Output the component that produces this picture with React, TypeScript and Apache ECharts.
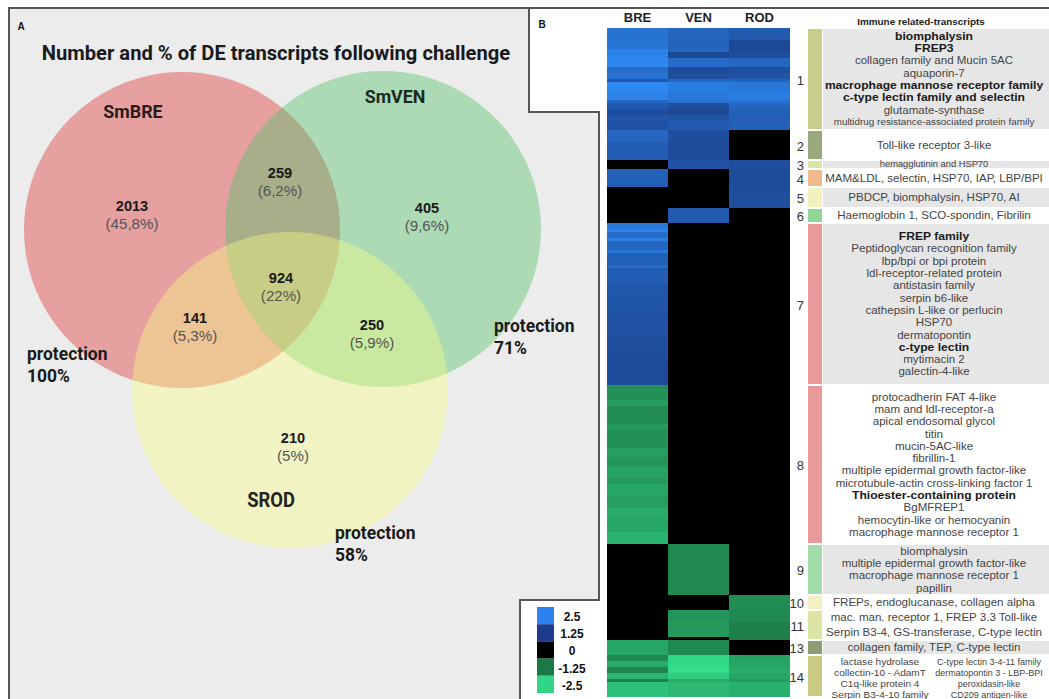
import React, { useEffect, useRef } from 'react';
import * as echarts from 'echarts';

const SANS = "'Liberation Sans', Arial, sans-serif";
const NARROW = "Roboto, 'Liberation Sans', sans-serif";

// ---------------- Heatmap data (panel B) ----------------
const columns = ['BRE', 'VEN', 'ROD'];
// number of transcript rows in each horizontal stripe (top to bottom)
const stripeRows = [
  4, 3, 1, 2, 3, 2, 2, 1, 3, 3, 1, 2, 2, 2, 3,
  4, 6,
  3,
  6,
  7,
  5,
  2, 1, 2, 1, 3, 1, 4, 1, 5, 5, 6, 6, 8, 9,
  5, 2, 6, 2, 6, 3, 3, 4, 2, 4, 4, 3, 5, 4,
  17,
  5,
  4, 5, 1,
  5,
  2, 2, 2, 2, 1, 5,
];
const breValues = [
  2.1, 2.15, 2.4, 2.4, 2.45, 2.0, 2.1, 1.6, 2.5, 2.4, 1.9, 1.7, 1.5, 1.65, 1.55,
  1.9, 1.75,
  0,
  1.8,
  0,
  0,
  2.2, 2.4, 2.0, 2.3, 1.9, 2.2, 1.8, 2.0, 1.75, 1.65, 1.6, 1.55, 1.5, 1.45,
  -1.6, -1.75, -1.55, -1.7, -1.6, -1.75, -1.65, -1.8, -1.7, -1.85, -1.75, -1.9, -1.85, -2.0,
  0,
  0,
  0, 0, 0,
  -1.85,
  -1.5, -1.9, -1.45, -2.0, -1.4, -2.15,
];
const venValues = [
  1.9, 1.85, 1.9, 1.4, 2.0, 1.45, 1.5, 1.9, 2.3, 2.2, 2.1, 1.5, 1.4, 1.6, 1.7,
  1.5, 1.45,
  1.55,
  0,
  0,
  1.7,
  0, 0, 0, 0, 0, 0, 0, 0, 0, 0, 0, 0, 0, 0,
  0, 0, 0, 0, 0, 0, 0, 0, 0, 0, 0, 0, 0, 0,
  -1.5,
  0,
  -1.65, -1.7, 0,
  -1.5,
  -2.4, -2.4, -2.45, -2.3, -1.9, -2.05,
];
const rodValues = [
  1.7, 1.4, 1.4, 1.5, 1.9, 1.5, 1.6, 1.9, 2.2, 2.3, 2.1, 1.9, 1.8, 1.75, 1.8,
  0, 0,
  1.5,
  1.45,
  1.5,
  0,
  0, 0, 0, 0, 0, 0, 0, 0, 0, 0, 0, 0, 0, 0,
  0, 0, 0, 0, 0, 0, 0, 0, 0, 0, 0, 0, 0, 0,
  0,
  -1.55,
  -1.5, -1.4, -1.4,
  0,
  -1.8, -1.85, -1.9, -1.85, -1.7, -1.95,
];
const colorStops = ['#35e08e', '#1b7242', '#000000', '#1b3f8a', '#2e8af2'];
const legendLabels = ['2.5', '1.25', '0', '-1.25', '-2.5'];
const legendColors = ['#2d82ef', '#1d3c8e', '#000000', '#1c7844', '#31d585'];

// ---------------- Clusters ----------------
const clusterLabels = ['1', '2', '3', '4', '5', '6', '7', '8', '9', '10', '11', '13', '14'];
const clusterRows = [34, 10, 3, 6, 7, 5, 54, 53, 17, 5, 10, 5, 14];
const clusterColors = ['#c9cd8a', '#9aa97c', '#d9e6a3', '#f0b98c', '#f1f1bd', '#8fd692', '#e89a9a', '#e89a9a', '#a3dcab', '#f3f0c2', '#dde5a6', '#8e9c76', '#c9cb84'];
const clusterShaded = [true, false, true, false, true, false, true, false, true, false, false, true, false];
type Line = { t: string; b?: boolean; s?: number };
const clusterTexts: Line[][] = [
  [
    { t: 'biomphalysin', b: true }, { t: 'FREP3', b: true }, { t: 'collagen family and Mucin 5AC' }, { t: 'aquaporin-7' },
    { t: 'macrophage mannose receptor family', b: true }, { t: 'c-type lectin family and selectin', b: true },
    { t: 'glutamate-synthase' }, { t: 'multidrug resistance-associated protein family', s: 9 },
  ],
  [{ t: 'Toll-like receptor 3-like' }],
  [{ t: 'hemagglutinin and HSP70', s: 8.5 }],
  [{ t: 'MAM&LDL, selectin, HSP70, IAP, LBP/BPI' }],
  [{ t: 'PBDCP, biomphalysin, HSP70, AI' }],
  [{ t: 'Haemoglobin 1, SCO-spondin, Fibrilin' }],
  [
    { t: 'FREP family', b: true }, { t: 'Peptidoglycan recognition family' }, { t: 'lbp/bpi or bpi protein' },
    { t: 'ldl-receptor-related protein' }, { t: 'antistasin family' }, { t: 'serpin b6-like' },
    { t: 'cathepsin L-like or perlucin' }, { t: 'HSP70' }, { t: 'dermatopontin' }, { t: 'c-type lectin', b: true },
    { t: 'mytimacin 2' }, { t: 'galectin-4-like' },
  ],
  [
    { t: 'protocadherin FAT 4-like' }, { t: 'mam and ldl-receptor-a' }, { t: 'apical endosomal glycol' }, { t: 'titin' },
    { t: 'mucin-5AC-like' }, { t: 'fibrillin-1' }, { t: 'multiple epidermal growth factor-like' },
    { t: 'microtubule-actin cross-linking factor 1' }, { t: 'Thioester-containing protein', b: true }, { t: 'BgMFREP1' },
    { t: 'hemocytin-like or hemocyanin' }, { t: 'macrophage mannose receptor 1' },
  ],
  [{ t: 'biomphalysin' }, { t: 'multiple epidermal growth factor-like' }, { t: 'macrophage mannose receptor 1' }, { t: 'papillin' }],
  [{ t: 'FREPs, endoglucanase, collagen alpha' }],
  [{ t: 'mac. man. receptor 1, FREP 3.3 Toll-like' }, { t: 'Serpin B3-4, GS-transferase, C-type lectin' }],
  [{ t: 'collagen family, TEP, C-type lectin' }],
  [],
];
const cluster14Left = ['lactase hydrolase', 'collectin-10 - AdamT', 'C1q-like protein 4', 'Serpin B3-4-10 family'];
const cluster14Right = ['C-type lectin 3-4-11 family', 'dermatopontin 3 - LBP-BPI', 'peroxidasin-like', 'CD209 antigen-like'];

// ---------------- Venn data (panel A) ----------------
const vennSets = ['SmBRE', 'SmVEN', 'SROD'];
const vennProtection = ['100%', '71%', '58%'];
const vennCounts = ['2013', '259', '405', '924', '141', '250', '210'];
const vennPercents = ['(45,8%)', '(6,2%)', '(9,6%)', '(22%)', '(5,3%)', '(5,9%)', '(5%)'];

// layout
const GRID = { left: 607, top: 28, width: 183, height: 669 };

export default function App() {
  const ref = useRef<HTMLDivElement>(null);
  useEffect(() => {
    const chart = echarts.init(ref.current!, null, { renderer: 'svg' });
    const totalRows = stripeRows.reduce((a, b) => a + b, 0);
    const cells: number[][] = [];
    let acc = 0;
    stripeRows.forEach((n, i) => {
      [breValues, venValues, rodValues].forEach((vals, c) => cells.push([c, acc, acc + n, vals[i]]));
      acc += n;
    });
    const yOf = (row: number) => GRID.top + (row * GRID.height) / totalRows;

    const txt = (x: number, y: number, text: string, o: any = {}) => ({
      type: 'text', x, y, silent: true, scaleX: o.sx || 1,
      style: {
        text, fill: o.fill || '#333', fontSize: o.size || 11, fontWeight: o.bold ? 'bold' : 'normal',
        fontFamily: o.family || SANS, textAlign: o.align || 'center', textVerticalAlign: 'middle',
      },
    });

    const g: any[] = [];
    // Panel A background & frame
    g.push({
      type: 'polygon', silent: true,
      shape: { points: [[9, 8], [529, 8], [529, 112], [599, 112], [599, 600], [520, 600], [520, 700], [9, 700]] },
      style: { fill: '#ececec', stroke: '#555', lineWidth: 2 },
    });
    g.push({ type: 'line', silent: true, shape: { x1: 529, y1: 8, x2: 1049, y2: 8 }, style: { stroke: '#555', lineWidth: 2 } });
    // Venn circles
    g.push({ type: 'circle', silent: true, shape: { cx: 182, cy: 230, r: 158 }, style: { fill: '#e6a0a0' } });
    g.push({ type: 'circle', silent: true, shape: { cx: 383, cy: 229, r: 158 }, style: { fill: 'rgba(84,194,104,0.42)' } });
    g.push({ type: 'circle', silent: true, shape: { cx: 290, cy: 390, r: 158 }, style: { fill: 'rgba(250,255,126,0.38)' } });
    g.push(txt(21, 26, 'A', { bold: true, size: 10, fill: '#111' }));
    g.push(txt(276, 53, 'Number and % of DE transcripts following challenge', { bold: true, size: 21, family: NARROW, fill: '#1a1a1a', sx: 0.96 }));
    g.push(txt(133, 111, vennSets[0], { bold: true, size: 19, family: NARROW, fill: '#2a1a1a', sx: 0.94 }));
    g.push(txt(395, 96, vennSets[1], { bold: true, size: 19, family: NARROW, fill: '#1a2a1a', sx: 0.94 }));
    g.push(txt(271, 500, vennSets[2], { bold: true, size: 20, family: NARROW, fill: '#222', sx: 0.92 }));
    const protPos = [[27, 353], [494, 325], [335, 532]];
    protPos.forEach(([x, y], i) => {
      g.push(txt(x, y, 'protection', { bold: true, size: 19, family: NARROW, fill: '#1a1a1a', align: 'left', sx: 0.92 }));
      g.push(txt(x, y + 22, vennProtection[i], { bold: true, size: 19, family: NARROW, fill: '#1a1a1a', align: 'left', sx: 0.92 }));
    });
    const countPos = [[132, 206], [280, 173], [427, 208], [281, 278], [195, 318], [372, 325], [293, 438]];
    countPos.forEach(([x, y], i) => {
      g.push(txt(x, y, vennCounts[i], { bold: true, size: 14, fill: '#1a1a1a', sx: 1.04 }));
      g.push(txt(x, y + 18, vennPercents[i], { size: 14, fill: '#555', sx: 1.08 }));
    });

    // Panel B
    const AX = 1.1; // annotation text horizontal stretch
    g.push(txt(542, 24, 'B', { bold: true, size: 10, fill: '#111' }));
    g.push(txt(921, 22, 'Immune related-transcripts', { bold: true, size: 9, fill: '#222', sx: AX }));
    let row = 0;
    clusterRows.forEach((n, i) => {
      const y0 = yOf(row), y1 = yOf(row + n);
      const cy = (y0 + y1) / 2;
      if (clusterShaded[i]) {
        g.push({ type: 'rect', silent: true, shape: { x: 823, y: y0 + 1, width: 226, height: y1 - y0 - 2 }, style: { fill: '#e6e6e6' } });
      }
      g.push({ type: 'rect', silent: true, shape: { x: 808, y: y0 + 1, width: 14, height: y1 - y0 - 2 }, style: { fill: clusterColors[i] } });
      g.push(txt(804, cy + 1, clusterLabels[i], { size: 13, fill: '#333', align: 'right' }));
      const lines = clusterTexts[i];
      const gap = i === 10 ? 15 : 12.3;
      lines.forEach((ln, k) => {
        const y = cy + (k - (lines.length - 1) / 2) * gap;
        g.push(txt(934, y, ln.t, { bold: ln.b, size: ln.s || (ln.b ? 11 : 10.5), fill: ln.b ? '#1a1a1a' : '#444', sx: AX }));
      });
      if (i === clusterRows.length - 1) {
        cluster14Left.forEach((t, k) => g.push(txt(880, cy + 2 + (k - 1.5) * 11, t, { size: 9, fill: '#444', sx: 1.12 })));
        cluster14Right.forEach((t, k) => g.push(txt(989, cy + 2 + (k - 1.5) * 11, t, { size: 9, fill: '#444', sx: 1.0 })));
      }
      row += n;
    });
    // Legend
    legendLabels.forEach((l, i) => {
      const y = 607 + i * 17.2;
      g.push({ type: 'rect', silent: true, shape: { x: 537, y, width: 17, height: 17.2 }, style: { fill: legendColors[i] } });
      g.push(txt(572, y + 10, l, { bold: true, size: 12, fill: '#111' }));
    });

    const option: any = {
      animation: false,
      grid: { left: GRID.left, top: GRID.top, width: GRID.width, height: GRID.height },
      xAxis: {
        type: 'category', data: columns, position: 'top',
        axisLine: { show: false }, axisTick: { show: false }, splitLine: { show: false },
        axisLabel: { fontWeight: 'bold', fontSize: 13, color: '#222', margin: 4, fontFamily: SANS },
      },
      yAxis: { type: 'value', min: 0, max: totalRows, inverse: true, show: false },
      visualMap: {
        type: 'continuous', show: false, dimension: 3, min: -2.5, max: 2.5, seriesIndex: 0,
        inRange: { color: colorStops },
      },
      series: [{
        type: 'custom',
        data: cells,
        encode: { x: 0, y: [1, 2] },
        renderItem: (params: any, api: any) => {
          const col = api.value(0);
          const p0 = api.coord([col, api.value(1)]);
          const p1 = api.coord([col, api.value(2)]);
          const w = api.size([1, 0])[0];
          return {
            type: 'rect',
            shape: { x: p0[0] - w / 2, y: p0[1], width: w, height: p1[1] - p0[1] },
            style: { fill: api.visual('color') },
          };
        },
      }],
      graphic: { elements: g },
    };
    chart.setOption(option);
    return () => chart.dispose();
  }, []);
  return <div ref={ref} style={{ position: 'absolute', left: 0, top: 0, width: 1049, height: 699 }} />;
}
